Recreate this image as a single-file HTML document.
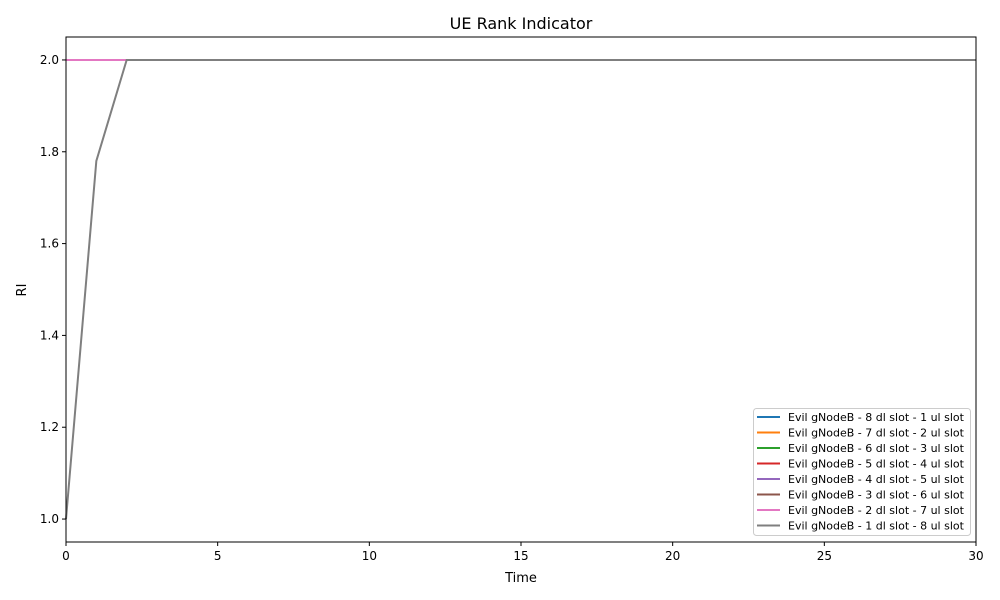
<!DOCTYPE html>
<html><head><meta charset="utf-8"><style>
html,body{margin:0;padding:0;background:#fff;}
svg{display:block;font-family:"DejaVu Sans","Liberation Sans",sans-serif;}
</style></head><body>
<svg id="chart" width="1000" height="600" viewBox="0 0 1000 600"></svg>
<script>
const times = Array.from({length:31},(_,i)=>i);
const seriesNames = ["Evil gNodeB - 8 dl slot - 1 ul slot","Evil gNodeB - 7 dl slot - 2 ul slot","Evil gNodeB - 6 dl slot - 3 ul slot","Evil gNodeB - 5 dl slot - 4 ul slot","Evil gNodeB - 4 dl slot - 5 ul slot","Evil gNodeB - 3 dl slot - 6 ul slot","Evil gNodeB - 2 dl slot - 7 ul slot","Evil gNodeB - 1 dl slot - 8 ul slot"];
const seriesColors = ["#1f77b4","#ff7f0e","#2ca02c","#d62728","#9467bd","#8c564b","#e377c2","#7f7f7f"];
const flat = [2,2,2,2,2,2,2,2,2,2,2,2,2,2,2,2,2,2,2,2,2,2,2,2,2,2,2,2,2,2,2];
const s1 = flat.slice(), s2 = flat.slice(), s3 = flat.slice(), s4 = flat.slice(), s5 = flat.slice(), s6 = flat.slice(), s7 = flat.slice();
const s8 = [1,1.78,2,2,2,2,2,2,2,2,2,2,2,2,2,2,2,2,2,2,2,2,2,2,2,2,2,2,2,2,2];
const seriesValues = [s1,s2,s3,s4,s5,s6,s7,s8];
const xTicks = [0,5,10,15,20,25,30];
const yTicks = [1.0,1.2,1.4,1.6,1.8,2.0];
const xMin=0,xMax=30,yMin=0.95,yMax=2.05;
const L=66,R=976,T=37,B=542;
const X=v=>L+(v-xMin)/(xMax-xMin)*(R-L);
const Y=v=>B-(v-yMin)/(yMax-yMin)*(B-T);
const svg=document.getElementById('chart');
const NS="http://www.w3.org/2000/svg";
function mk(tag,attrs,parent){const e=document.createElementNS(NS,tag);for(const k in attrs)e.setAttribute(k,attrs[k]);(parent||svg).appendChild(e);return e;}
let t=mk('text',{x:521,y:29,'text-anchor':'middle','font-size':16,fill:'#000'});t.textContent='UE Rank Indicator';


const g=mk('g',{});


seriesValues.forEach((vals,i)=>{
  const p=mk('polyline',{points:vals.map((v,j)=>X(times[j])+','+Y(v)).join(' '),fill:'none',stroke:seriesColors[i],'stroke-width':2},g);
  
  
});
const frame=mk('rect',{x:L,y:T,width:R-L,height:B-T,fill:'none',stroke:'#000','stroke-width':1});


xTicks.forEach(v=>{
  const tk=mk('line',{x1:X(v),x2:X(v),y1:B,y2:B+4,stroke:'#000'});
  
  
  const lb=mk('text',{x:X(v),y:B+18,'text-anchor':'middle','font-size':12});lb.textContent=v;
  
  
});
yTicks.forEach(v=>{
  const tk=mk('line',{x1:L-4,x2:L,y1:Y(v),y2:Y(v),stroke:'#000'});
  
  
  const lb=mk('text',{x:L-7,y:Y(v)+4,'text-anchor':'end','font-size':12});lb.textContent=v.toFixed(1);
  
  
});
const xt=mk('text',{x:521,y:582,'text-anchor':'middle','font-size':13});xt.textContent='Time';


const yt=mk('text',{x:26,y:290,'text-anchor':'middle','font-size':13,transform:'rotate(-90 26 290)'});yt.textContent='RI';


const lg=mk('g',{});


mk('rect',{x:753.5,y:408.5,width:217,height:127,rx:3,fill:'#fff','fill-opacity':0.8,stroke:'#ccc'},lg);
seriesNames.forEach((n,i)=>{
  const yy=417+i*15.5;
  const e=mk('g',{},lg);
  
  
  mk('line',{x1:757,x2:780,y1:yy,y2:yy,stroke:seriesColors[i],'stroke-width':2},e);
  const tx=mk('text',{x:788,y:yy+4,'font-size':11},e);tx.textContent=n;
});
</script>
</body></html>
